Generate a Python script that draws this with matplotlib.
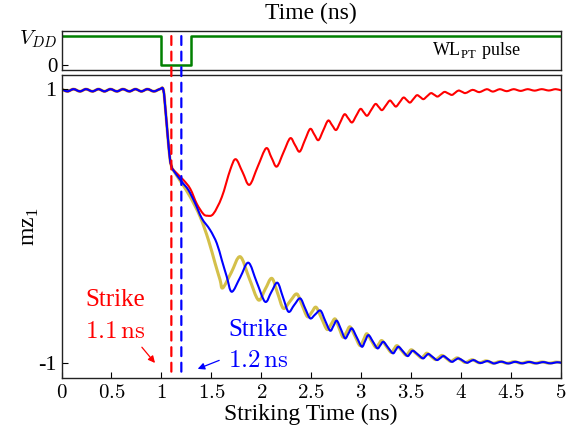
import matplotlib
matplotlib.use("Agg")
import matplotlib.pyplot as plt
from matplotlib.patches import ConnectionPatch, PathPatch
from matplotlib.path import Path

plt.rcParams['font.family'] = ['Liberation Serif', 'DejaVu Serif']
plt.rcParams['mathtext.fontset'] = 'cm'

# shared part before the strike (small ripple around 1)
x_pre = [0.0, 0.06, 0.12, 0.185, 0.245, 0.31, 0.37, 0.43, 0.49, 0.555, 0.615,
         0.68, 0.74, 0.80, 0.86, 0.925, 0.985, 1.02, 1.044, 1.064, 1.087, 1.104]
y_pre = [0.998, 0.982, 0.998, 0.982, 0.998, 0.982, 0.998, 0.982, 0.998, 0.982, 0.998,
         0.982, 0.998, 0.982, 0.998, 0.982, 0.998, 0.993, 0.823, 0.652, 0.482, 0.430]

# strike at 1.1 ns (red)
x_red = [1.12, 1.22, 1.29, 1.355, 1.42, 1.46, 1.52, 1.605, 1.69,
         1.745, 1.813, 1.882, 1.965, 2.049, 2.102, 2.156, 2.223, 2.290, 2.338,
         2.385, 2.437, 2.490, 2.532, 2.573, 2.621, 2.670, 2.710, 2.750, 2.792,
         2.834, 2.872, 2.910, 2.952, 2.994, 3.027, 3.061, 3.102, 3.144, 3.177,
         3.210, 3.249, 3.288, 3.319, 3.350, 3.388, 3.425, 3.457, 3.490, 3.525,
         3.560, 3.593, 3.625, 3.662, 3.700, 3.733, 3.766, 3.801, 3.836, 3.873,
         3.910, 3.943, 3.976, 4.010, 4.043, 4.080, 4.116, 4.150, 4.183, 4.222,
         4.260, 4.290, 4.320, 4.355, 4.390, 4.425, 4.460, 4.495, 4.530, 4.565,
         4.600, 4.635, 4.670, 4.705, 4.740, 4.775, 4.810, 4.845, 4.880, 4.915,
         4.950, 5.000]
y_red = [0.409, 0.336, 0.270, 0.161, 0.088, 0.075, 0.088, 0.210, 0.410,
         0.487, 0.393, 0.300, 0.433, 0.567, 0.500, 0.433, 0.537, 0.640, 0.591,
         0.542, 0.625, 0.708, 0.667, 0.626, 0.697, 0.769, 0.735, 0.700, 0.757,
         0.815, 0.785, 0.755, 0.805, 0.854, 0.829, 0.804, 0.847, 0.890, 0.868,
         0.845, 0.880, 0.915, 0.893, 0.871, 0.904, 0.937, 0.919, 0.900, 0.927,
         0.954, 0.940, 0.925, 0.947, 0.969, 0.957, 0.944, 0.961, 0.978, 0.967,
         0.956, 0.972, 0.988, 0.979, 0.969, 0.981, 0.993, 0.985, 0.976, 0.987,
         0.998, 0.989, 0.980, 0.989, 0.998, 0.990, 0.983, 0.991, 0.998, 0.991,
         0.985, 0.992, 0.998, 0.992, 0.987, 0.993, 0.998, 0.993, 0.988, 0.993,
         0.998, 0.990]

# strike at 1.2 ns (blue)
x_blue = [1.117, 1.204, 1.27, 1.338, 1.405, 1.488, 1.555, 1.605, 1.655, 1.705,
          1.79, 1.872, 1.955, 2.039, 2.10, 2.162, 2.218, 2.273, 2.33, 2.39,
          2.44, 2.49, 2.54, 2.593, 2.64, 2.69, 2.724, 2.757, 2.80, 2.84,
          2.874, 2.908, 2.958, 3.008, 3.041, 3.074, 3.12, 3.164, 3.194, 3.224,
          3.27, 3.319, 3.347, 3.375, 3.42, 3.465, 3.492, 3.519, 3.57, 3.619,
          3.647, 3.675, 3.717, 3.76, 3.793, 3.826, 3.868, 3.91, 3.943, 3.976,
          4.018, 4.06, 4.093, 4.126, 4.16, 4.195, 4.23, 4.265, 4.30, 4.335,
          4.405, 4.475, 4.545, 4.615, 4.685, 4.755, 4.825, 4.895, 4.965, 5.0]
y_blue = [0.409, 0.323, 0.263, 0.166, 0.056, -0.029, -0.126, -0.248, -0.370, -0.480,
          -0.374, -0.268, -0.410, -0.553, -0.484, -0.414, -0.520, -0.626, -0.577, -0.528,
          -0.601, -0.674, -0.646, -0.617, -0.690, -0.764, -0.728, -0.691, -0.756, -0.820,
          -0.784, -0.747, -0.814, -0.881, -0.839, -0.796, -0.845, -0.893, -0.869, -0.845,
          -0.887, -0.929, -0.905, -0.881, -0.915, -0.949, -0.930, -0.910, -0.938, -0.966,
          -0.950, -0.934, -0.956, -0.978, -0.964, -0.949, -0.970, -0.991, -0.978, -0.966,
          -0.982, -0.998, -0.988, -0.978, -0.990, -1.000, -0.993, -0.985, -0.994, -1.003,
          -0.990, -1.003, -0.991, -1.002, -0.992, -1.002, -0.993, -1.002, -0.994, -0.998]

# third trace (yellow)
x_yel = [1.117, 1.204, 1.288, 1.388, 1.471, 1.538, 1.588, 1.615,
         1.70, 1.789, 1.88, 1.972, 2.04, 2.106, 2.164, 2.222, 2.29, 2.357,
         2.41, 2.463, 2.507, 2.55, 2.605, 2.66, 2.70, 2.74, 2.78, 2.82,
         2.855, 2.89, 2.94, 2.99, 3.025, 3.058, 3.103, 3.148, 3.178, 3.208,
         3.255, 3.303, 3.33, 3.36, 3.405, 3.45, 3.477, 3.505, 3.555, 3.605,
         3.633, 3.66, 3.703, 3.746, 3.778, 3.812, 3.855, 3.897, 3.93, 3.963,
         4.005, 4.047, 4.113, 4.183, 4.253, 4.323, 4.393, 4.463, 4.533, 4.603,
         4.673, 4.743, 4.813, 4.883, 4.953, 5.0]
y_yel = [0.409, 0.312, 0.214, 0.068, -0.102, -0.272, -0.394, -0.452,
         -0.340, -0.224, -0.382, -0.540, -0.461, -0.382, -0.490, -0.601, -0.548, -0.496,
         -0.579, -0.662, -0.628, -0.593, -0.675, -0.755, -0.717, -0.678, -0.745, -0.812,
         -0.774, -0.736, -0.805, -0.873, -0.830, -0.786, -0.837, -0.886, -0.861, -0.836,
         -0.880, -0.923, -0.898, -0.873, -0.908, -0.943, -0.923, -0.903, -0.933, -0.962,
         -0.945, -0.928, -0.952, -0.975, -0.960, -0.944, -0.966, -0.988, -0.975, -0.962,
         -0.979, -0.996, -0.976, -0.998, -0.984, -1.001, -0.989, -1.001, -0.990, -1.001,
         -0.991, -1.001, -0.992, -1.001, -0.993, -0.997]

# word-line pulse
x_pulse = [0, 1.0, 1.0, 1.3, 1.3, 5]
y_pulse = [1, 1, 0, 0, 1, 1]

strike_red = 1.1
strike_blue = 1.2

xticks = [0, 0.5, 1, 1.5, 2, 2.5, 3, 3.5, 4, 4.5, 5]
xticklabels = ['$0$', '$0.5$', '$1$', '$1.5$', '$2$', '$2.5$', '$3$', '$3.5$', '$4$', '$4.5$', '$5$']

red = '#ff0000'
blue = '#0000ff'
yellow = '#d4c04a'
green = '#008000'


def smooth_curve(ax, xs, ys, **kw):
    # draw the read points as one smooth bezier path (catmull-rom handles)
    n = len(xs)
    verts = [(xs[0], ys[0])]
    codes = [Path.MOVETO]
    for i in range(n - 1):
        i0 = max(i - 1, 0)
        i3 = min(i + 2, n - 1)
        c1 = (xs[i] + (xs[i + 1] - xs[i0]) / 6, ys[i] + (ys[i + 1] - ys[i0]) / 6)
        c2 = (xs[i + 1] - (xs[i3] - xs[i]) / 6, ys[i + 1] - (ys[i3] - ys[i]) / 6)
        verts += [c1, c2, (xs[i + 1], ys[i + 1])]
        codes += [Path.CURVE4] * 3
    patch = PathPatch(Path(verts, codes), fill=False, capstyle='round',
                      joinstyle='round', **kw)
    ax.add_patch(patch)


fig = plt.figure(figsize=(5.67, 4.38), dpi=100)
ax_top = fig.add_axes([0.1085, 0.840, 0.8805, 0.089])
ax = fig.add_axes([0.1085, 0.137, 0.8805, 0.692])

# top panel
ax_top.plot(x_pulse, y_pulse, color=green, lw=1.8)
ax_top.set_xlim(0, 5)
ax_top.set_ylim(-0.172, 1.172)
ax_top.set_xticks([])
ax_top.set_yticks([0, 1])
ax_top.set_yticklabels(['0', '$V_{DD}$'], fontsize=15)
ax_top.tick_params(axis='y', direction='in', length=4, pad=3)
ax_top.xaxis.set_label_position('top')
ax_top.set_xlabel('Time (ns)', fontsize=17, labelpad=9)
ax_top.text(4.15, 0.5, 'WL$_{\\mathregular{PT}}$ pulse', fontsize=13,
            ha='center', va='center')

# main panel
smooth_curve(ax, x_pre + x_yel, y_pre + y_yel, edgecolor=yellow, lw=2.2)
smooth_curve(ax, x_pre + x_red, y_pre + y_red, edgecolor=red, lw=1.5)
smooth_curve(ax, x_pre + x_blue, y_pre + y_blue, edgecolor=blue, lw=1.5)
ax.set_xlim(0, 5)
ax.set_ylim(-1.109, 1.102)
ax.set_xticks(xticks)
ax.set_xticklabels(xticklabels, fontsize=15)
ax.set_yticks([-1, 1])
ax.set_yticklabels(['-1', '1'], fontsize=16)
ax.tick_params(direction='in', length=4)
ax.tick_params(axis='x', pad=4)
ax.set_xlabel('Striking Time (ns)', fontsize=17, labelpad=1)
ax.set_ylabel('mz$_{\\mathregular{1}}$', fontsize=17, labelpad=-2)

for a in (ax, ax_top):
    for s in a.spines.values():
        s.set_color('#222222')
        s.set_linewidth(1.0)

# dashed strike markers across both panels
for xs, c in ((strike_red, red), (strike_blue, blue)):
    con = ConnectionPatch(xyA=(xs, 1.0), coordsA=ax_top.transData,
                          xyB=(xs, -1.109), coordsB=ax.transData,
                          color=c, lw=1.6, linestyle=(0, (4, 3)))
    fig.add_artist(con)

ax.text(0.536, -0.54, 'Strike', color=red, fontsize=18, ha='center', va='center')
ax.text(0.536, -0.775, '$1.1\\,\\mathrm{ns}$', color=red, fontsize=18, ha='center', va='center')
ax.text(1.97, -0.76, 'Strike', color=blue, fontsize=18, ha='center', va='center')
ax.text(1.97, -0.985, '$1.2\\,\\mathrm{ns}$', color=blue, fontsize=18, ha='center', va='center')

ax.annotate('', xy=(0.954, -1.015), xytext=(0.787, -0.869),
            arrowprops=dict(arrowstyle='-|>', color=red, lw=0.9, mutation_scale=10))
ax.annotate('', xy=(1.338, -1.05), xytext=(1.605, -0.973),
            arrowprops=dict(arrowstyle='-|>', color=blue, lw=0.9, mutation_scale=10))

fig.savefig('out.png', dpi=100)
